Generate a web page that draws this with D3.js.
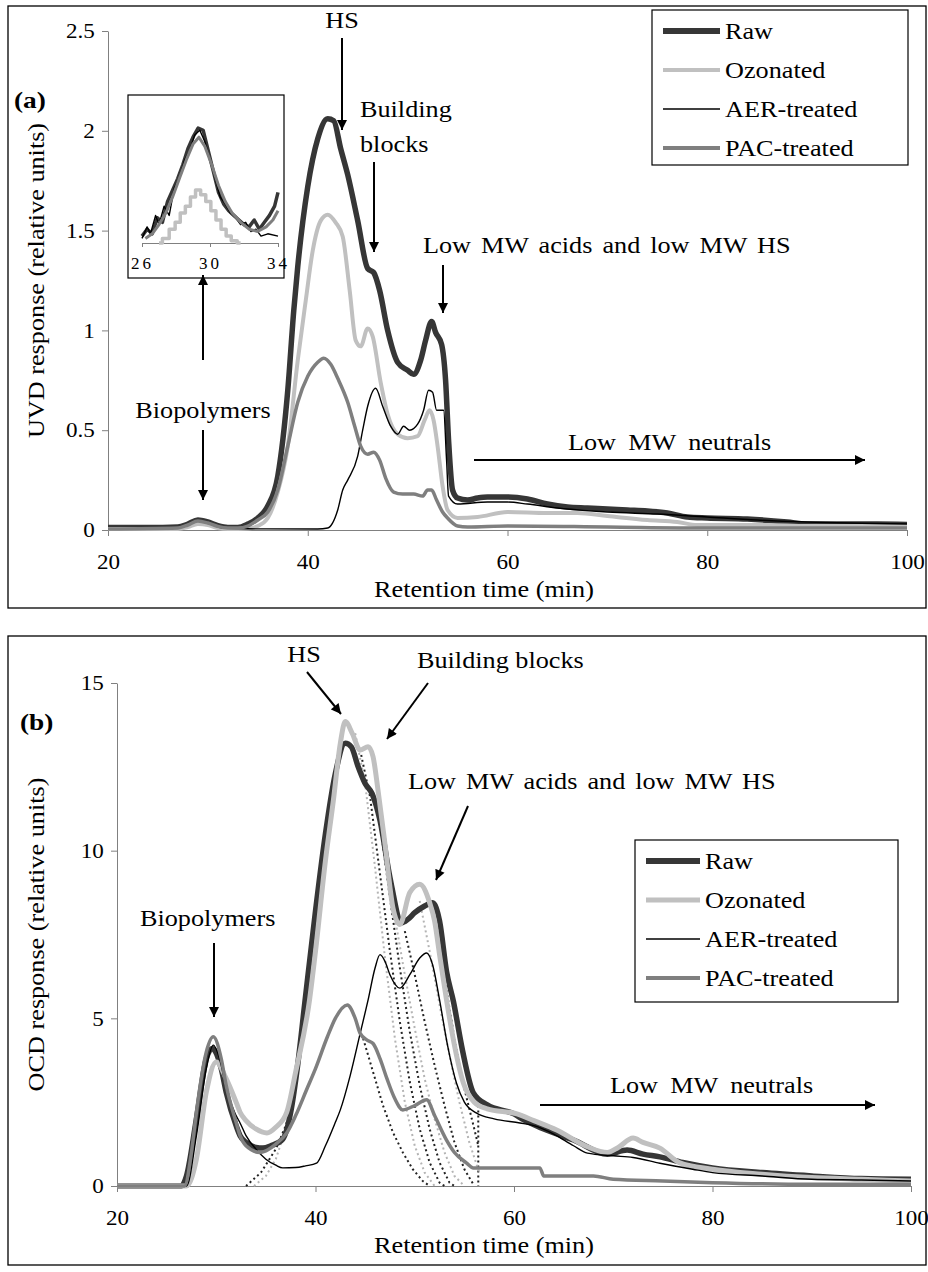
<!DOCTYPE html>
<html>
<head>
<meta charset="utf-8">
<script src="https://cdn.jsdelivr.net/npm/d3@7"></script>
<style>
body { margin: 0; background: #fff; }
svg text { font-family: "Liberation Serif", "Times New Roman", serif; fill: #000; }
</style>
</head>
<body>
<svg id="chart" width="928" height="1272"></svg>
<script>

// series names and tick labels
var seriesNames = ["Raw", "Ozonated", "AER-treated", "PAC-treated"];
var xTicks = [20, 40, 60, 80, 100];
var uvdTicks = [0, 0.5, 1, 1.5, 2, 2.5];
var ocdTicks = [0, 5, 10, 15];
var insetTicks = [26, 30, 34];

// (a) UVD response, [retention time, value]
var uvdRaw = [[20,0.012],[24,0.012],[27,0.015],[28,0.03],[29,0.05],[30,0.04],[31,0.022],[32,0.013],[33,0.013],[34,0.03],[35,0.06],[36,0.12],[37,0.27],[38,0.7],[38.6,1.1],[39,1.32],[40,1.72],[41,1.96],[42,2.06],[42.6,2.05],[43.3,1.91],[44,1.78],[45,1.55],[46,1.31],[46.6,1.29],[47.2,1.2],[48,1.0],[49,0.84],[50,0.8],[50.6,0.78],[51.3,0.85],[51.8,0.95],[52.4,1.045],[52.8,0.99],[53.4,0.93],[53.8,0.75],[54.1,0.45],[54.5,0.2],[55,0.16],[56,0.15],[57,0.16],[58,0.165],[60,0.165],[62,0.155],[64,0.13],[66,0.115],[68,0.11],[70,0.105],[72,0.1],[74,0.095],[76,0.085],[78,0.065],[80,0.06],[84,0.055],[88,0.04],[90,0.03],[94,0.03],[97,0.03],[100,0.028]];
var uvdOzonated = [[20,0.005],[27,0.005],[28,0.015],[29,0.03],[30,0.025],[31,0.01],[32,0.005],[34,0.008],[35,0.02],[36,0.06],[37,0.19],[38,0.42],[39,0.85],[39.8,1.15],[40.5,1.4],[41.3,1.55],[42,1.58],[42.8,1.54],[43.5,1.47],[44.2,1.2],[44.8,0.95],[45.3,0.92],[46,1.01],[46.5,0.97],[47.3,0.74],[48,0.58],[49,0.48],[50,0.46],[51,0.47],[51.7,0.55],[52.2,0.6],[52.6,0.55],[53,0.42],[53.5,0.22],[54,0.1],[55,0.06],[57,0.065],[60,0.09],[64,0.085],[67,0.085],[70,0.07],[74,0.05],[77,0.04],[79,0.025],[86,0.025],[90,0.02],[100,0.02]];
var uvdAer = [[20,0.005],[26,0.006],[27,0.012],[28,0.025],[29,0.045],[30,0.035],[31,0.015],[32,0.008],[34,0.006],[41,0.005],[42,0.01],[43,0.1],[43.5,0.2],[44,0.25],[45,0.37],[45.5,0.5],[46,0.62],[46.8,0.71],[47.5,0.62],[48.3,0.52],[49,0.48],[49.6,0.52],[50.2,0.5],[51,0.53],[51.6,0.6],[52.1,0.7],[52.5,0.69],[52.9,0.6],[53.6,0.6],[53.9,0.35],[54.1,0.17],[55,0.13],[58,0.14],[60,0.14],[62,0.13],[65,0.11],[70,0.09],[75,0.08],[80,0.065],[85,0.05],[90,0.04],[100,0.03]];
var uvdPac = [[20,0.005],[27,0.01],[28,0.025],[29,0.045],[30,0.035],[31,0.018],[32,0.01],[33,0.01],[34,0.02],[35,0.05],[36,0.09],[37,0.2],[38,0.42],[39,0.64],[40,0.77],[41,0.84],[41.6,0.86],[42.3,0.83],[43,0.76],[44,0.64],[44.7,0.52],[45.3,0.42],[46,0.38],[46.6,0.39],[47.2,0.35],[47.8,0.26],[48.6,0.19],[49.5,0.18],[50.6,0.18],[51.5,0.17],[52,0.2],[52.4,0.2],[52.9,0.15],[53.5,0.09],[54,0.06],[55,0.02],[56,0.015],[60,0.02],[70,0.015],[80,0.01],[90,0.01],[100,0.01]];

// (a) inset, biopolymer peak 26-34 min
var insetRaw = [[26,0.003],[26.3,0.006],[26.6,0.004],[26.9,0.011],[27.2,0.009],[27.5,0.018],[27.8,0.023],[28.1,0.028],[28.4,0.034],[28.7,0.041],[29.0,0.046],[29.3,0.05],[29.6,0.049],[29.9,0.04],[30.2,0.031],[30.5,0.022],[30.8,0.017],[31.1,0.014],[31.4,0.012],[31.7,0.01],[32.0,0.008],[32.3,0.007],[32.6,0.01],[32.9,0.006],[33.2,0.009],[33.5,0.012],[33.8,0.016],[34,0.022]];
var insetOzonated = [[27,0],[27.4,0.002],[27.8,0.006],[28.1,0.009],[28.4,0.013],[28.7,0.016],[29.0,0.02],[29.3,0.023],[29.6,0.021],[29.9,0.018],[30.2,0.014],[30.5,0.01],[30.8,0.006],[31.1,0.003],[31.4,0.001],[31.8,0]];
var insetAer = [[26,0.002],[26.3,0.007],[26.5,0.004],[26.8,0.012],[27.0,0.008],[27.3,0.016],[27.6,0.012],[27.9,0.024],[28.2,0.028],[28.5,0.036],[28.8,0.04],[29.1,0.047],[29.4,0.049],[29.7,0.044],[30.0,0.036],[30.3,0.028],[30.6,0.02],[30.9,0.017],[31.2,0.013],[31.5,0.011],[31.8,0.008],[32.1,0.009],[32.4,0.005],[32.7,0.006],[33,0.003],[33.4,0.004],[34,0.003]];
var insetPac = [[26.2,0.002],[26.6,0.004],[27,0.008],[27.4,0.013],[27.8,0.02],[28.2,0.028],[28.6,0.036],[29,0.043],[29.35,0.046],[29.7,0.042],[30.1,0.034],[30.5,0.025],[30.9,0.018],[31.3,0.013],[31.8,0.009],[32.3,0.006],[32.8,0.005],[33.3,0.007],[33.7,0.01],[34,0.014]];

// (b) OCD response
var ocdRaw = [[20,0],[26.5,0],[27,0.3],[28,2.0],[29,3.8],[29.6,4.1],[30.5,3.5],[31,2.8],[32,1.8],[32.4,1.5],[33,1.3],[34,1.15],[34.7,1.13],[35.5,1.2],[36.7,1.4],[37.5,2.2],[38.2,3.6],[38.9,5.4],[40,8.2],[41,10.5],[42,12.3],[43,13.2],[43.6,13.1],[44.3,12.5],[45,12.0],[45.7,11.7],[46.5,10.9],[47.5,9.2],[48.7,7.85],[49.3,7.95],[50,8.15],[51,8.35],[51.8,8.45],[52.5,7.9],[53.2,6.4],[53.9,5.5],[54.8,4.06],[55.9,2.78],[57.3,2.42],[60,2.15],[61,1.97],[63,1.7],[66,1.37],[69.4,0.95],[71.4,1.07],[73,0.95],[74.7,0.87],[77,0.7],[80,0.54],[85,0.4],[90,0.3],[95,0.22],[100,0.2]];
var ocdOzonated = [[20,0],[27,0],[28,0.8],[29,2.8],[30,3.7],[31,3.2],[32,2.5],[32.4,2.2],[33,1.95],[34,1.7],[35.1,1.58],[36,1.75],[37.1,2.2],[38,3.4],[39.4,5.55],[40,7.0],[41,9.7],[41.8,11.5],[42.5,13.2],[43,13.85],[43.7,13.5],[44.5,13.0],[45.3,13.1],[45.8,12.8],[46.3,11.8],[47,10.2],[47.8,8.3],[48.5,7.8],[49.5,8.75],[50.5,9.0],[51.5,8.45],[52,7.9],[52.5,6.9],[53.2,5.55],[54,4.2],[54.9,3.07],[56,2.5],[57.3,2.3],[60.3,2.15],[62,1.95],[64.3,1.67],[67.4,1.17],[69.4,1.0],[70.5,1.15],[72,1.43],[73,1.3],[74.7,1.13],[76.7,0.69],[80,0.5],[85,0.35],[90,0.25],[95,0.2],[100,0.15]];
var ocdAer = [[20,0],[27,0],[28,1.5],[29,3.5],[29.7,4.2],[30.5,3.6],[31,2.9],[32,2.1],[32.4,1.88],[33,1.5],[34,1.1],[35,0.8],[36,0.62],[36.7,0.54],[38,0.55],[39,0.6],[40.1,0.68],[41,1.2],[42,1.9],[42.5,2.27],[43.5,3.3],[44.5,4.55],[45.3,5.55],[46,6.5],[46.5,6.9],[47,6.7],[47.5,6.3],[48.5,5.9],[49.5,6.3],[50.5,6.8],[51.2,6.95],[51.8,6.6],[52.5,5.55],[53.3,4.2],[54.2,3.07],[55,2.5],[56.2,2.18],[58,2.0],[60.6,1.88],[62,1.8],[64,1.55],[66,1.2],[67.4,0.98],[70,0.9],[72,0.85],[74.7,0.68],[78,0.5],[80,0.4],[85,0.3],[90,0.2],[95,0.18],[100,0.15]];
var ocdPac = [[20,0],[26.8,0],[27.5,1.0],[28,2.2],[29,4.0],[29.7,4.45],[30.5,3.8],[31,3.0],[32,1.9],[32.4,1.5],[33,1.2],[34.4,1.0],[35,1.05],[36,1.25],[37.1,1.58],[38,2.1],[39.1,2.87],[40,3.5],[41.2,4.45],[42,5.0],[43.2,5.4],[44,5.0],[44.5,4.55],[45.2,4.35],[45.8,4.25],[46.5,3.8],[47.2,3.2],[48,2.6],[48.8,2.27],[50,2.4],[51.2,2.57],[52,2.1],[53.2,1.37],[54,1.0],[55.2,0.69],[55.9,0.54],[62.6,0.54],[63,0.3],[68,0.3],[70,0.2],[75,0.15],[80,0.1],[90,0.05],[100,0.05]];

// (b) dotted fitted peaks
var dottedDark = [
  [[33,0],[34.5,0.4],[36,1.1],[37,1.8],[37.6,2.4]],
  [[44.5,13],[45.5,11.6],[46.5,9.3],[47.5,7],[48.5,4.9],[49.5,3.1],[50.5,1.7],[51.5,0.7],[52.5,0.1],[53,0]],
  [[46.5,10.8],[47.5,8.6],[48.5,6.5],[49.5,4.6],[50.5,3.0],[51.5,1.7],[52.5,0.7],[53.5,0.1],[54,0]],
  [[49,7.6],[50,6.3],[51,4.9],[52,3.6],[53,2.4],[54,1.3],[55,0.5],[56,0]],
  [[52,8.2],[53,6.2],[54,4.4],[55,2.9],[56,1.7],[56.4,1.2]],
  [[56.4,2.4],[56.4,0]],
  [[44.8,4.4],[45.8,3.4],[46.8,2.4],[47.8,1.6],[48.8,1.0],[49.8,0.5],[50.8,0.15],[51.5,0]]
];
var dottedLight = [
  [[33.8,0],[35,0.3],[36,0.8],[37,1.7],[37.5,2.2]],
  [[44,13.5],[45,12],[46,9.5],[47,6.8],[48,4.4],[49,2.5],[50,1.2],[51,0.4],[52,0]],
  [[48,8],[49,6.3],[50,4.7],[51,3.2],[52,2.0],[53,1.0],[54,0.3],[55,0]],
  [[50.5,8.5],[51.5,7.0],[52.5,5.4],[53.5,3.9],[54.5,2.5],[55.5,1.3],[56.5,0.4]]
];

var SX = 1.14; // text in the source is slightly stretched
var FS = 23;
var svg = d3.select("#chart");

var defs = svg.append("defs");
defs.append("marker")
  .attr("id", "head")
  .attr("viewBox", "0 0 10 10")
  .attr("refX", 10).attr("refY", 5)
  .attr("markerWidth", 11).attr("markerHeight", 10)
  .attr("markerUnits", "userSpaceOnUse")
  .attr("orient", "auto-start-reverse")
  .append("path").attr("d", "M0,0 L10,5 L0,10 z").attr("fill", "#000");

function label(g, x, y, str, size, anchor, weight) {
  return g.append("text")
    .attr("transform", "translate(" + x + "," + y + ") scale(" + SX + ",1)")
    .attr("text-anchor", anchor || "start")
    .attr("font-size", size || FS)
    .attr("font-weight", weight || "normal")
    .text(str);
}

function arrow(g, x1, y1, x2, y2) {
  g.append("line")
    .attr("x1", x1).attr("y1", y1).attr("x2", x2).attr("y2", y2)
    .attr("stroke", "#000").attr("stroke-width", 2)
    .attr("marker-end", "url(#head)");
}

function axes(g, x, y, yTicks, yTitle) {
  var y0 = y.range()[0];
  var ax = g.append("g")
    .attr("transform", "translate(0," + y0 + ")")
    .call(d3.axisBottom(x).tickValues(xTicks).tickSize(6).tickSizeOuter(0).tickPadding(18));
  var ay = g.append("g")
    .attr("transform", "translate(" + x.range()[0] + ",0)")
    .call(d3.axisLeft(y).tickValues(yTicks).tickFormat(d3.format("")).tickSize(6).tickSizeOuter(0).tickPadding(6));
  [ax, ay].forEach(function(a) {
    a.attr("font-size", 21).attr("font-family", null);
    a.select(".domain").attr("stroke", "#808080");
    a.selectAll(".tick line").attr("stroke", "#808080");
    a.selectAll(".tick text").attr("transform", "scale(1.1,1)");
  });
  label(g, 484, y0 + 67, "Retention time (min)", FS, "middle");
  g.append("text")
    .attr("transform", "translate(44," + d3.mean(y.range()) + ") rotate(-90) scale(" + SX + ",1)")
    .attr("text-anchor", "middle")
    .attr("font-size", FS)
    .text(yTitle);
}

function series(g, x, y, data, color, width, curve) {
  var line = d3.line()
    .x(function(d) { return x(d[0]); })
    .y(function(d) { return y(d[1]); })
    .curve(curve || d3.curveMonotoneX);
  return g.append("path")
    .datum(data)
    .attr("fill", "none")
    .attr("stroke", color)
    .attr("stroke-width", width)
    .attr("stroke-linejoin", "round")
    .attr("d", line);
}

var colors = ["#363636", "#c0c0c0", "#000000", "#7f7f7f"];

function legend(g, x0, y0, w, h, gap, lineLen, widths) {
  g.append("rect").attr("x", x0).attr("y", y0).attr("width", w).attr("height", h)
    .attr("fill", "#fff").attr("stroke", "#000").attr("stroke-width", 1.2);
  seriesNames.forEach(function(name, i) {
    var yy = y0 + 21 + i * gap;
    g.append("line")
      .attr("x1", x0 + 11).attr("x2", x0 + 11 + lineLen)
      .attr("y1", yy).attr("y2", yy)
      .attr("stroke", colors[i]).attr("stroke-width", widths[i]);
    label(g, x0 + 16 + lineLen, yy + 8, name, FS);
  });
}

// ---------------- panel (a) ----------------
var ga = svg.append("g");
ga.append("rect").attr("x", 8).attr("y", 6).attr("width", 918).attr("height", 602)
  .attr("fill", "none").attr("stroke", "#000").attr("stroke-width", 1.3);

var xA = d3.scaleLinear().domain([20, 100]).range([108, 907]);
var yA = d3.scaleLinear().domain([0, 2.5]).range([530, 31]);
axes(ga, xA, yA, uvdTicks, "UVD response (relative units)");

var uvdSeries = [uvdRaw, uvdOzonated, uvdAer, uvdPac];
var uvdWidths = [5.5, 4, 1.4, 3.5];
uvdSeries.forEach(function(s, i) { series(ga, xA, yA, s, colors[i], uvdWidths[i]); });

// inset
ga.append("rect").attr("x", 128).attr("y", 95).attr("width", 156).attr("height", 183)
  .attr("fill", "#fff").attr("stroke", "#000").attr("stroke-width", 1.2);
var xI = d3.scaleLinear().domain([26, 34]).range([142, 278]);
var yI = d3.scaleLinear().domain([0, 0.05]).range([243, 128]);
var axI = ga.append("g").attr("transform", "translate(0,243)")
  .call(d3.axisBottom(xI).tickValues(insetTicks).tickSize(4).tickSizeOuter(0).tickPadding(10));
axI.attr("font-size", 17).attr("font-family", null);
axI.select(".domain").attr("stroke", "#808080");
axI.selectAll(".tick line").attr("stroke", "#808080");
axI.selectAll(".tick text").attr("letter-spacing", 3);
[insetRaw, insetOzonated, insetAer, insetPac].forEach(function(s, i) {
  series(ga, xI, yI, s, colors[i], [3.5, 3.5, 1.4, 3][i], i == 1 ? d3.curveStep : d3.curveLinear);
});

legend(ga, 652, 10, 256, 155, 39, 57, [6, 4, 1.4, 4]);

label(ga, 14, 108, "(a)", 24, "start", "bold");
label(ga, 342, 28, "HS", FS, "middle");
arrow(ga, 342, 38, 342, 130);
label(ga, 360, 117, "Building", FS);
label(ga, 360, 152, "blocks", FS);
arrow(ga, 374, 162, 374, 252);
label(ga, 423, 253, "Low MW acids and low MW HS", FS).attr("word-spacing", 3);
arrow(ga, 443, 265, 443, 313);
arrow(ga, 203, 360, 203, 275);
label(ga, 203, 418, "Biopolymers", FS, "middle");
arrow(ga, 203, 430, 203, 500);
label(ga, 568, 450, "Low MW neutrals", FS).attr("word-spacing", 5);
arrow(ga, 474, 460, 865, 460);

// ---------------- panel (b) ----------------
var gb = svg.append("g");
gb.append("rect").attr("x", 8).attr("y", 636).attr("width", 918).attr("height", 629)
  .attr("fill", "none").attr("stroke", "#000").attr("stroke-width", 1.3);

var xB = d3.scaleLinear().domain([20, 100]).range([117, 911]);
var yB = d3.scaleLinear().domain([0, 15]).range([1186, 683]);
axes(gb, xB, yB, ocdTicks, "OCD response (relative units)");

dottedDark.forEach(function(s) {
  series(gb, xB, yB, s, "#222", 2, d3.curveLinear).attr("stroke-dasharray", "2,3");
});
dottedLight.forEach(function(s) {
  series(gb, xB, yB, s, "#b4b4b4", 2, d3.curveLinear).attr("stroke-dasharray", "2,3");
});

var ocdSeries = [ocdRaw, ocdOzonated, ocdAer, ocdPac];
var ocdWidths = [5.5, 5, 1.4, 3.5];
ocdSeries.forEach(function(s, i) { series(gb, xB, yB, s, colors[i], ocdWidths[i]); });

legend(gb, 635, 840, 263, 162, 39, 54, [6, 5, 1.4, 4]);

label(gb, 20, 730, "(b)", 24, "start", "bold");
label(gb, 304, 662, "HS", FS, "middle");
arrow(gb, 307, 672, 341, 714);
label(gb, 417, 668, "Building blocks", FS);
arrow(gb, 428, 683, 387, 739);
label(gb, 408, 789, "Low MW acids and low MW HS", FS).attr("word-spacing", 3);
arrow(gb, 468, 806, 436, 880);
label(gb, 140, 926, "Biopolymers", FS);
arrow(gb, 214, 943, 214, 1017);
label(gb, 610, 1093, "Low MW neutrals", FS).attr("word-spacing", 5);
arrow(gb, 540, 1105, 875, 1105);

</script>
</body>
</html>
